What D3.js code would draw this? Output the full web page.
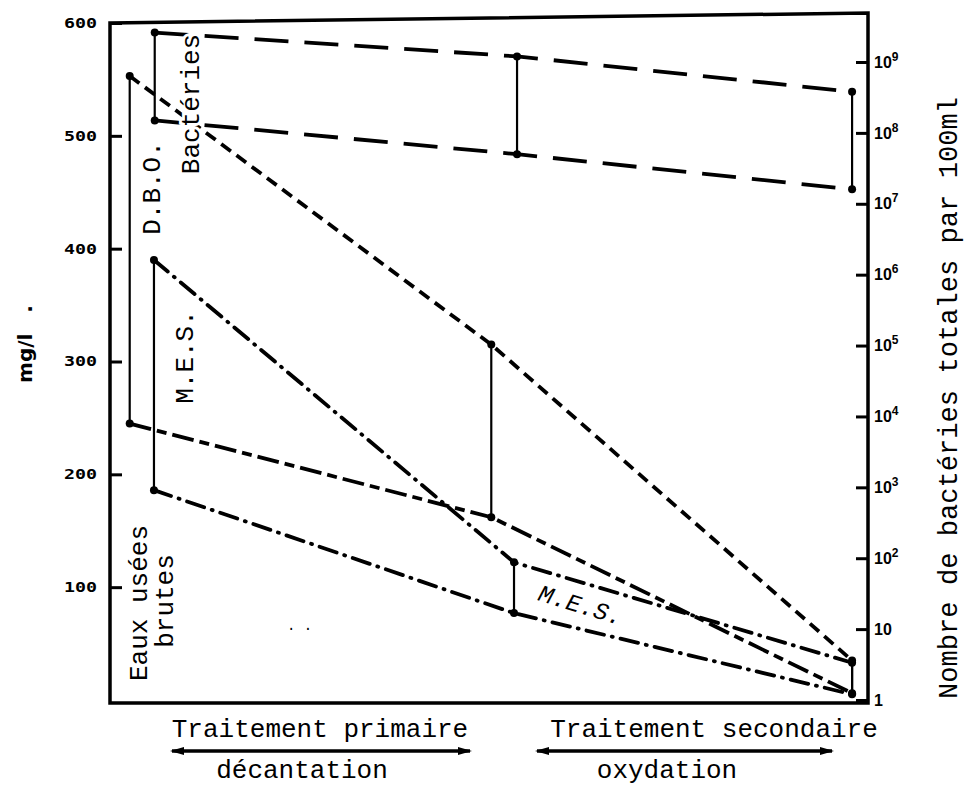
<!DOCTYPE html>
<html>
<head>
<meta charset="utf-8">
<script src="https://cdn.jsdelivr.net/npm/d3@7"></script>
<style>
body { margin: 0; background: #fff; }
svg text { fill: #000; }
</style>
</head>
<body>
<div class="container"></div>
<script>
// values
const stages = ["Traitement primaire", "Traitement secondaire"];
const processes = ["décantation", "oxydation"];

// position along the treatment chain (0 = eaux brutes, 100 = sortie)
const dboX = [2.6, 50.3, 97.9];
const dboMax = [553, 315, 35];      // mg/l
const dboMin = [245, 162, 6];
const mesX = [5.8, 53.3, 97.9];
const mesMax = [390, 122, 33];      // mg/l
const mesMin = [186, 77, 5];
const bactX = [5.9, 53.7, 97.9];
const bactMax = [2.6e9, 1.2e9, 3.8e8]; // bactéries / 100ml
const bactMin = [1.5e8, 5e7, 1.6e7];

const leftTicks = [100, 200, 300, 400, 500, 600];
const rightTicks = [1, 10, 1e2, 1e3, 1e4, 1e5, 1e6, 1e7, 1e8, 1e9];

const mono = '"Liberation Mono", "DejaVu Sans Mono", monospace';

// build the SVG
svgwidth = 964;
svgheight = 788;
frame = {left: 110, right: 868, bottom: 703, topRight: 13};

svg = d3.select('.container')
    .append("svg")
    .attr("width", svgwidth)
    .attr("height", svgheight);

svg.append("rect").attr("width", svgwidth).attr("height", svgheight).attr("fill", "#fff");

// scales
posX = d3.scaleLinear().domain([0, 100]).range([frame.left, frame.right]);
yLeft = d3.scaleLinear().domain([0, 600]).range([700, 23]);
yRight = d3.scaleLog().domain([1, 1e9]).range([700, 62]);

// arrow heads for the bottom brackets
const defs = svg.append("defs");
defs.append("marker")
    .attr("id", "arrow")
    .attr("viewBox", "0 0 14 8")
    .attr("refX", 12).attr("refY", 4)
    .attr("markerWidth", 14).attr("markerHeight", 8)
    .attr("markerUnits", "userSpaceOnUse")
    .attr("orient", "auto-start-reverse")
  .append("path")
    .attr("d", "M0,0 L14,4 L0,8 Z")
    .attr("fill", "#000");

// frame
svg.append("path")
    .attr("d", "M" + frame.left + "," + yLeft(600) + " L" + frame.right + "," + frame.topRight +
               " L" + frame.right + "," + frame.bottom + " L" + frame.left + "," + frame.bottom + " Z")
    .attr("fill", "none")
    .attr("stroke", "#000")
    .attr("stroke-width", 3.5);

// left axis (mg/l)
svg.append("g")
    .attr("class", "axis axis--left")
    .attr("transform", "translate(" + frame.left + ",0)")
    .call(d3.axisLeft(yLeft).tickValues(leftTicks).tickSize(-12).tickPadding(13))
    .call(g => g.select(".domain").remove())
    .call(g => g.selectAll(".tick line").attr("stroke", "#000").attr("stroke-width", 3))
    .call(g => g.selectAll(".tick text")
        .style("font-family", '"DejaVu Sans Mono", monospace')
        .style("font-weight", "bold")
        .style("font-size", "14px")
        .attr("textLength", 33)
        .attr("lengthAdjust", "spacingAndGlyphs"));

// right axis (log, bactéries)
svg.append("g")
    .attr("class", "axis axis--right")
    .attr("transform", "translate(" + frame.right + ",0)")
    .call(d3.axisRight(yRight).tickValues(rightTicks).tickSize(-12).tickPadding(6).tickFormat(""))
    .call(g => g.select(".domain").remove())
    .call(g => g.selectAll(".tick line").attr("stroke", "#000").attr("stroke-width", 3))
    .call(g => g.selectAll(".tick text").each(function(d) {
        const t = d3.select(this)
            .style("font-family", '"Liberation Sans", sans-serif')
            .style("font-weight", "bold")
            .style("font-size", "16px")
            .attr("text-anchor", "start");
        const e = Math.round(Math.log10(d));
        if (e < 2) {
            t.text(d);
        } else {
            t.append("tspan").text("10");
            t.append("tspan").style("font-size", "12px").attr("dy", -7).text(e);
        }
    }));

// series lines
const series = [
    {x: dboX, v: dboMax, y: yLeft, dash: "12,7", cap: "butt"},
    {x: dboX, v: dboMin, y: yLeft, dash: "22,6,10,6", cap: "butt"},
    {x: mesX, v: mesMax, y: yLeft, dash: "18,8,1,8", cap: "round"},
    {x: mesX, v: mesMin, y: yLeft, dash: "18,8,1,8", cap: "round"},
    {x: bactX, v: bactMax, y: yRight, dash: "34,16", cap: "butt"},
    {x: bactX, v: bactMin, y: yRight, dash: "34,16", cap: "butt"}
];

series.forEach(function(s) {
    const pts = s.x.map((x, i) => [x, s.v[i]]);
    svg.append("path")
        .datum(pts)
        .attr("class", "series")
        .attr("fill", "none")
        .attr("stroke", "#000")
        .attr("stroke-width", 3.8)
        .attr("stroke-dasharray", s.dash)
        .attr("stroke-linecap", s.cap)
        .attr("d", d3.line().x(d => posX(d[0])).y(d => s.y(d[1])));
});

// min-max bars at each stage
const ranges = [
    {x: dboX, hi: dboMax, lo: dboMin, y: yLeft},
    {x: mesX, hi: mesMax, lo: mesMin, y: yLeft},
    {x: bactX, hi: bactMax, lo: bactMin, y: yRight}
];

ranges.forEach(function(r) {
    const bars = r.x.map((x, i) => ({x: x, hi: r.hi[i], lo: r.lo[i]}));
    svg.selectAll(null)
        .data(bars)
        .enter()
        .append("line")
            .attr("x1", d => posX(d.x)).attr("x2", d => posX(d.x))
            .attr("y1", d => r.y(d.hi)).attr("y2", d => r.y(d.lo))
            .attr("stroke", "#000")
            .attr("stroke-width", 2.2);
    svg.selectAll(null)
        .data(bars.flatMap(d => [[d.x, d.hi], [d.x, d.lo]]))
        .enter()
        .append("circle")
            .attr("cx", d => posX(d[0]))
            .attr("cy", d => r.y(d[1]))
            .attr("r", 4)
            .attr("fill", "#000");
});

// labels inside the plot (white halo hides the lines under them, like the original)
function vlabel(txt, x, y) {
    svg.append("text")
        .attr("transform", "translate(" + x + "," + y + ") rotate(-90)")
        .attr("text-anchor", "middle")
        .style("font-family", mono)
        .style("font-size", "26px")
        .attr("stroke", "#fff")
        .attr("stroke-width", 6)
        .attr("paint-order", "stroke")
        .text(txt);
}
vlabel("Bactéries", 199, 104);
vlabel("D.B.O.", 160, 188);
vlabel("M.E.S.", 193, 357);
vlabel("Eaux usées", 147, 603);
vlabel("brutes", 173, 601);

svg.append("text")
    .attr("transform", "translate(537,600) rotate(17)")
    .style("font-family", mono)
    .style("font-size", "24px")
    .style("font-style", "italic")
    .attr("stroke", "#fff")
    .attr("stroke-width", 4)
    .attr("paint-order", "stroke")
    .text("M.E.S.");

svg.append("text")
    .attr("x", 287).attr("y", 630)
    .style("font-family", mono)
    .style("font-size", "14px")
    .text(". .");

// axis titles
svg.append("text")
    .attr("transform", "translate(32,344) rotate(-90)")
    .attr("text-anchor", "middle")
    .style("font-family", '"DejaVu Sans", sans-serif')
    .style("font-weight", "bold")
    .style("font-size", "20px")
    .text("mg/l\u00a0\u00a0\u00a0.");

svg.append("text")
    .attr("transform", "translate(957,398) rotate(-90)")
    .attr("text-anchor", "middle")
    .style("font-family", mono)
    .style("font-size", "27px")
    .attr("textLength", 602)
    .attr("lengthAdjust", "spacingAndGlyphs")
    .text("Nombre de bactéries totales par 100ml");

// treatment stages under the x axis
const stageBox = [{x0: 172, x1: 470, title: stages[0], proc: processes[0]},
                  {x0: 537, x1: 832, title: stages[1], proc: processes[1]}];
const stageText = [{cx: 320, pcx: 302}, {cx: 714, pcx: 667}];

stageBox.forEach(function(s, i) {
    svg.append("text")
        .attr("x", stageText[i].cx).attr("y", 737)
        .attr("text-anchor", "middle")
        .style("font-family", mono)
        .style("font-size", "26px")
        .text(s.title);
    svg.append("line")
        .attr("x1", s.x0).attr("x2", s.x1)
        .attr("y1", 751).attr("y2", 751)
        .attr("stroke", "#000")
        .attr("stroke-width", 3.5)
        .attr("marker-start", "url(#arrow)")
        .attr("marker-end", "url(#arrow)");
    svg.append("text")
        .attr("x", stageText[i].pcx).attr("y", 778)
        .attr("text-anchor", "middle")
        .style("font-family", mono)
        .style("font-size", "26px")
        .text(s.proc);
});
</script>
</body>
</html>
